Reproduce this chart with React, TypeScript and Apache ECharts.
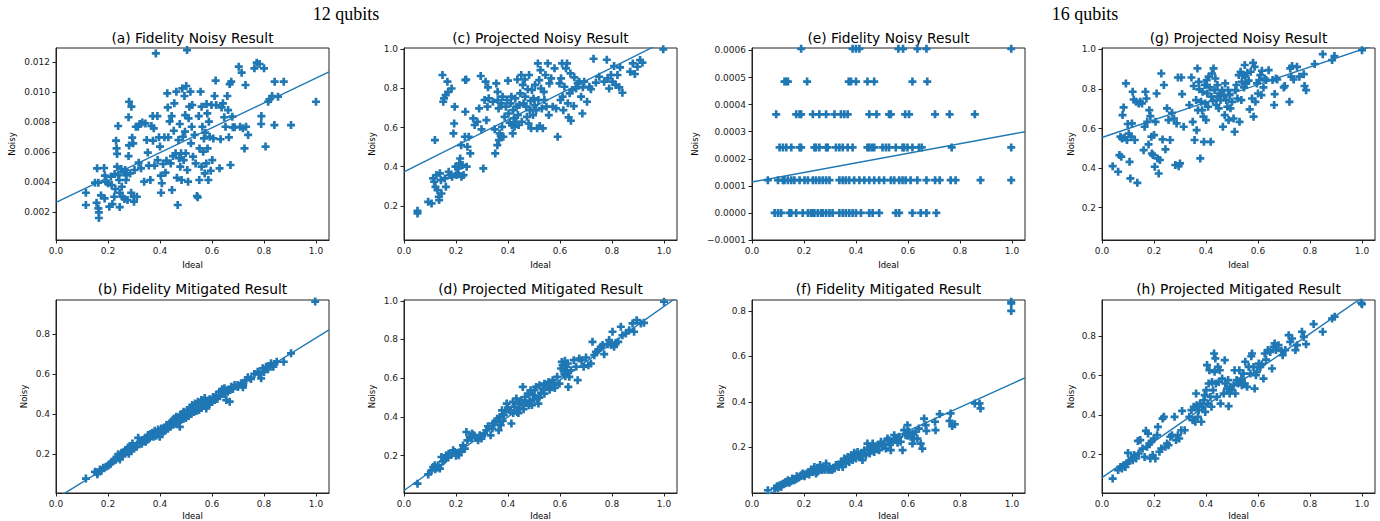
import React, { useEffect, useRef } from "react";
import * as echarts from "echarts";

// ---------- data ----------
const X_TICKS = [0, 0.2, 0.4, 0.6, 0.8, 1.0];
const Y_TICKS_A = [0.002, 0.004, 0.006, 0.008, 0.01, 0.012];
const Y_TICKS_E = [-0.0001, 0, 0.0001, 0.0002, 0.0003, 0.0004, 0.0005, 0.0006];
const Y_TICKS_TO1 = [0.2, 0.4, 0.6, 0.8, 1.0];
const Y_TICKS_TO08 = [0.2, 0.4, 0.6, 0.8];

// fitted lines: [intercept, slope]
const FIT_A = [0.00265, 0.0083];
const FIT_C = [0.374, 0.666];
const FIT_E = [0.000114, 0.000177];
const FIT_G = [0.555, 0.445];
const FIT_B = [-0.024, 0.804];
const FIT_D = [0.02, 0.951];
const FIT_F = [-0.04, 0.52];
const FIT_H = [0.083, 0.912];

const A_DATA = [
  [0.115,0.00329],[0.115,0.00247],[0.15,0.00396],[0.156,0.00262],[0.158,0.00492],[0.163,0.00396],[0.163,0.00224],[0.165,0.00198],[0.165,0.0016],[0.173,0.00311],
  [0.185,0.00494],[0.187,0.00291],[0.188,0.00443],[0.192,0.00403],[0.2,0.00392],[0.205,0.00236],[0.211,0.00436],[0.214,0.0038],[0.217,0.00253],[0.224,0.00302],
  [0.226,0.00454],[0.228,0.00354],[0.231,0.00677],[0.233,0.00625],[0.235,0.00588],[0.239,0.00775],[0.235,0.00503],[0.24,0.00447],[0.243,0.00414],[0.245,0.00329],
  [0.245,0.00233],[0.251,0.00487],[0.253,0.00369],[0.256,0.00302],[0.261,0.00465],[0.263,0.00287],[0.266,0.00481],[0.269,0.00414],[0.271,0.00447],[0.275,0.0028],
  [0.279,0.00574],[0.281,0.00937],[0.279,0.00833],[0.281,0.00645],[0.285,0.00458],[0.289,0.00329],[0.29,0.00904],[0.293,0.00697],[0.297,0.00659],[0.299,0.00302],
  [0.3,0.00269],[0.302,0.00481],[0.307,0.0077],[0.311,0.00302],[0.315,0.0077],[0.318,0.0053],[0.322,0.00788],[0.327,0.00492],[0.332,0.00799],[0.339,0.00403],
  [0.344,0.00792],[0.349,0.00681],[0.353,0.00597],[0.357,0.0051],[0.363,0.00414],[0.367,0.00775],[0.372,0.00841],[0.373,0.00677],[0.376,0.00759],[0.379,0.0051],
  [0.384,0.0126],[0.39,0.00841],[0.391,0.00547],[0.396,0.00699],[0.4,0.00637],[0.403,0.00443],[0.404,0.00329],[0.407,0.00392],[0.412,0.00521],[0.417,0.00699],
  [0.421,0.00463],[0.425,0.00543],[0.428,0.00993],[0.43,0.00899],[0.432,0.00699],[0.437,0.00806],[0.441,0.00525],[0.445,0.00841],[0.446,0.00347],[0.45,0.00574],
  [0.453,0.00743],[0.455,0.00926],[0.46,0.00592],[0.463,0.01004],[0.465,0.00429],[0.468,0.00247],[0.471,0.00681],[0.473,0.00559],[0.476,0.00788],[0.478,0.00503],
  [0.481,0.00592],[0.483,0.00414],[0.486,0.01026],[0.488,0.00703],[0.491,0.00547],[0.494,0.00975],[0.496,0.00737],[0.497,0.00848],[0.499,0.00592],[0.501,0.01042],
  [0.504,0.01282],[0.505,0.00481],[0.508,0.00403],[0.51,0.00826],[0.513,0.00904],[0.517,0.01004],[0.519,0.00659],[0.522,0.0077],[0.524,0.00915],[0.527,0.0057],
  [0.533,0.00715],[0.537,0.00525],[0.542,0.00307],[0.545,0.00298],[0.549,0.00841],[0.551,0.00414],[0.552,0.00625],[0.556,0.01004],[0.56,0.00904],[0.56,0.00503],
  [0.563,0.0077],[0.566,0.00603],[0.569,0.00692],[0.572,0.00458],[0.574,0.0073],[0.578,0.00525],[0.579,0.00922],[0.582,0.00859],[0.583,0.00625],[0.586,0.00414],
  [0.588,0.00804],[0.591,0.00703],[0.595,0.00476],[0.598,0.00915],[0.601,0.00547],[0.605,0.00692],[0.61,0.00975],[0.614,0.01078],[0.616,0.00915],[0.629,0.00492],
  [0.633,0.00686],[0.637,0.00899],[0.642,0.00926],[0.647,0.00833],[0.652,0.0077],[0.659,0.00975],[0.662,0.00881],[0.665,0.00699],[0.668,0.01055],[0.671,0.00514],
  [0.674,0.01071],[0.678,0.00837],[0.68,0.00766],[0.687,0.00766],[0.703,0.01171],[0.708,0.0077],[0.714,0.01131],[0.719,0.00759],[0.725,0.00625],[0.729,0.01049],
  [0.731,0.0077],[0.739,0.00715],[0.763,0.0116],[0.772,0.01198],[0.783,0.01189],[0.789,0.00788],[0.79,0.00841],[0.8,0.0116],[0.806,0.00637],[0.816,0.00937],
  [0.821,0.00953],[0.831,0.00975],[0.841,0.01071],[0.84,0.00781],[0.854,0.00971],[0.876,0.01071],[0.904,0.00781],[1.0,0.00937],
];

const C_DATA = [
  [0.052,0.174],[0.052,0.161],[0.093,0.22],[0.106,0.212],[0.112,0.34],[0.116,0.323],[0.119,0.536],[0.121,0.297],[0.125,0.357],[0.129,0.28],
  [0.134,0.246],[0.135,0.229],[0.138,0.366],[0.142,0.331],[0.144,0.263],[0.148,0.869],[0.151,0.732],[0.154,0.749],[0.157,0.34],[0.16,0.766],
  [0.161,0.297],[0.167,0.835],[0.17,0.783],[0.172,0.374],[0.177,0.357],[0.183,0.8],[0.185,0.348],[0.19,0.57],[0.193,0.621],[0.195,0.707],
  [0.198,0.4],[0.202,0.357],[0.206,0.366],[0.209,0.391],[0.213,0.417],[0.216,0.442],[0.22,0.51],[0.221,0.348],[0.225,0.408],[0.229,0.357],
  [0.234,0.553],[0.236,0.681],[0.236,0.843],[0.239,0.846],[0.241,0.4],[0.244,0.502],[0.249,0.553],[0.255,0.468],[0.266,0.647],[0.272,0.613],
  [0.282,0.63],[0.289,0.698],[0.295,0.864],[0.298,0.591],[0.305,0.391],[0.31,0.741],[0.314,0.835],[0.317,0.638],[0.321,0.707],[0.323,0.806],
  [0.326,0.75],[0.342,0.732],[0.349,0.591],[0.351,0.468],[0.355,0.826],[0.359,0.51],[0.36,0.783],[0.361,0.741],[0.364,0.698],[0.365,0.536],
  [0.368,0.57],[0.372,0.557],[0.374,0.724],[0.377,0.604],[0.379,0.758],[0.382,0.553],[0.387,0.655],[0.392,0.707],[0.396,0.741],[0.4,0.84],
  [0.402,0.672],[0.406,0.625],[0.41,0.724],[0.413,0.758],[0.415,0.613],[0.418,0.57],[0.42,0.689],[0.423,0.647],[0.425,0.604],[0.428,0.749],
  [0.43,0.63],[0.433,0.707],[0.436,0.846],[0.438,0.664],[0.441,0.613],[0.444,0.715],[0.447,0.775],[0.451,0.869],[0.453,0.63],[0.457,0.818],
  [0.46,0.724],[0.464,0.846],[0.466,0.758],[0.47,0.707],[0.473,0.655],[0.476,0.796],[0.479,0.621],[0.481,0.869],[0.484,0.689],[0.487,0.737],
  [0.489,0.596],[0.492,0.792],[0.496,0.664],[0.498,0.749],[0.502,0.715],[0.504,0.818],[0.508,0.689],[0.512,0.596],[0.515,0.928],[0.517,0.741],
  [0.52,0.843],[0.522,0.608],[0.525,0.894],[0.527,0.8],[0.53,0.698],[0.534,0.596],[0.538,0.783],[0.54,0.741],[0.544,0.869],[0.548,0.707],
  [0.553,0.928],[0.557,0.664],[0.559,0.826],[0.566,0.852],[0.572,0.707],[0.579,0.903],[0.585,0.698],[0.591,0.553],[0.598,0.826],[0.602,0.741],
  [0.604,0.852],[0.608,0.928],[0.61,0.758],[0.613,0.689],[0.617,0.809],[0.623,0.903],[0.627,0.928],[0.63,0.724],[0.633,0.652],[0.637,0.775],
  [0.64,0.877],[0.642,0.635],[0.647,0.792],[0.653,0.71],[0.655,0.857],[0.662,0.8],[0.668,0.826],[0.674,0.835],[0.681,0.758],[0.686,0.672],
  [0.688,0.806],[0.693,0.835],[0.704,0.732],[0.713,0.809],[0.719,0.796],[0.729,0.952],[0.738,0.83],[0.751,0.86],[0.77,0.835],[0.78,0.947],
  [0.783,0.852],[0.789,0.8],[0.796,0.869],[0.802,0.835],[0.808,0.915],[0.814,0.818],[0.821,0.869],[0.828,0.806],[0.831,0.908],[0.84,0.778],
  [0.87,0.886],[0.88,0.928],[0.888,0.874],[0.898,0.911],[0.908,0.945],[0.917,0.932],[0.997,1.0],
];

// (e) values sit on discrete levels
const E_LEVELS = [0, 0.000121, 0.000242, 0.000364, 0.000485, 0.000606];
const E_X_L0 = [0.087,0.1,0.112,0.144,0.151,0.17,0.195,0.215,0.227,0.234,0.24,0.253,0.266,0.272,0.285,0.298,0.31,0.336,0.349,0.361,0.374,0.387,0.4,0.419,0.451,0.464,0.489,0.553,0.566,0.617,0.649,0.671,0.709];
const E_X_L1 = [0.061,0.1,0.119,0.125,0.138,0.151,0.163,0.183,0.202,0.215,0.234,0.246,0.259,0.272,0.285,0.298,0.336,0.349,0.361,0.374,0.393,0.413,0.432,0.451,0.47,0.489,0.508,0.534,0.547,0.566,0.579,0.591,0.61,0.636,0.671,0.704,0.722,0.764,0.783,0.879,0.997];
const E_X_L2 = [0.106,0.119,0.132,0.151,0.183,0.189,0.24,0.246,0.259,0.285,0.291,0.323,0.336,0.349,0.368,0.387,0.444,0.451,0.461,0.47,0.502,0.515,0.527,0.553,0.579,0.585,0.598,0.617,0.642,0.653,0.768,0.997];
const E_X_L3 = [0.093,0.17,0.183,0.189,0.234,0.259,0.285,0.317,0.342,0.355,0.368,0.451,0.479,0.527,0.534,0.589,0.604,0.704,0.76,0.857];
const E_X_L4 = [0.125,0.132,0.138,0.212,0.372,0.381,0.4,0.444,0.47,0.617,0.674];
const E_X_L5 = [0.189,0.387,0.4,0.413,0.563,0.581,0.636,0.671,0.997];

const G_DATA = [
  [0.041,0.41],[0.062,0.382],[0.067,0.466],[0.071,0.559],[0.074,0.458],[0.077,0.55],[0.079,0.668],[0.083,0.707],[0.087,0.555],[0.092,0.828],
  [0.096,0.542],[0.099,0.623],[0.103,0.575],[0.106,0.432],[0.109,0.348],[0.113,0.559],[0.115,0.626],[0.118,0.786],[0.122,0.747],[0.126,0.542],
  [0.131,0.735],[0.136,0.326],[0.141,0.727],[0.147,0.735],[0.154,0.727],[0.16,0.491],[0.164,0.609],[0.167,0.786],[0.171,0.752],[0.174,0.634],
  [0.179,0.52],[0.182,0.693],[0.186,0.663],[0.19,0.559],[0.192,0.474],[0.196,0.466],[0.2,0.567],[0.203,0.407],[0.206,0.634],[0.21,0.777],
  [0.214,0.449],[0.218,0.373],[0.223,0.441],[0.228,0.878],[0.233,0.545],[0.238,0.82],[0.244,0.495],[0.25,0.702],[0.256,0.643],[0.262,0.542],
  [0.269,0.68],[0.277,0.651],[0.282,0.416],[0.287,0.626],[0.292,0.858],[0.295,0.41],[0.3,0.424],[0.305,0.858],[0.308,0.774],[0.314,0.609],
  [0.336,0.719],[0.344,0.858],[0.349,0.634],[0.353,0.815],[0.356,0.542],[0.362,0.744],[0.364,0.592],[0.367,0.904],[0.369,0.693],[0.372,0.836],
  [0.374,0.798],[0.378,0.449],[0.381,0.735],[0.385,0.693],[0.387,0.786],[0.39,0.66],[0.392,0.533],[0.395,0.82],[0.397,0.727],[0.4,0.643],
  [0.403,0.845],[0.405,0.777],[0.408,0.71],[0.41,0.862],[0.414,0.808],[0.418,0.533],[0.421,0.761],[0.423,0.878],[0.427,0.74],[0.429,0.904],
  [0.433,0.794],[0.436,0.853],[0.44,0.719],[0.444,0.82],[0.446,0.761],[0.449,0.702],[0.453,0.777],[0.456,0.744],[0.462,0.794],[0.465,0.609],
  [0.469,0.769],[0.472,0.668],[0.474,0.828],[0.478,0.744],[0.482,0.71],[0.485,0.794],[0.487,0.643],[0.491,0.769],[0.494,0.702],[0.5,0.735],
  [0.506,0.651],[0.51,0.584],[0.513,0.794],[0.517,0.82],[0.521,0.752],[0.526,0.87],[0.529,0.634],[0.533,0.887],[0.536,0.744],[0.538,0.836],
  [0.542,0.87],[0.546,0.808],[0.549,0.921],[0.551,0.862],[0.555,0.828],[0.559,0.882],[0.564,0.842],[0.568,0.697],[0.572,0.887],[0.577,0.752],
  [0.581,0.932],[0.583,0.66],[0.587,0.912],[0.59,0.735],[0.596,0.828],[0.6,0.777],[0.605,0.845],[0.609,0.87],[0.613,0.769],[0.615,0.892],
  [0.621,0.808],[0.626,0.853],[0.631,0.845],[0.641,0.895],[0.656,0.845],[0.662,0.719],[0.664,0.774],[0.669,0.853],[0.674,0.848],[0.699,0.808],
  [0.703,0.815],[0.721,0.735],[0.724,0.904],[0.728,0.862],[0.731,0.916],[0.737,0.848],[0.75,0.912],[0.759,0.862],[0.776,0.875],[0.779,0.815],
  [0.785,0.794],[0.818,0.926],[0.849,0.976],[0.885,0.946],[0.894,0.966],[1.0,0.996],
];

const B_DATA = [
  [0.115,0.076],[0.15,0.11],[0.159,0.098],[0.169,0.121],[0.182,0.131],[0.192,0.135],[0.205,0.147],[0.214,0.16],[0.223,0.168],[0.233,0.185],
  [0.239,0.198],[0.246,0.172],[0.252,0.205],[0.261,0.21],[0.269,0.218],[0.277,0.232],[0.286,0.238],[0.294,0.252],[0.303,0.235],[0.316,0.28],
  [0.322,0.26],[0.332,0.269],[0.341,0.277],[0.354,0.294],[0.363,0.299],[0.371,0.305],[0.38,0.315],[0.386,0.299],[0.393,0.322],[0.399,0.285],
  [0.405,0.327],[0.412,0.31],[0.418,0.332],[0.425,0.344],[0.431,0.335],[0.437,0.352],[0.444,0.36],[0.45,0.369],[0.456,0.377],[0.463,0.386],
  [0.469,0.377],[0.476,0.335],[0.478,0.394],[0.486,0.399],[0.491,0.411],[0.499,0.389],[0.504,0.419],[0.512,0.411],[0.517,0.432],[0.524,0.444],
  [0.529,0.427],[0.535,0.452],[0.54,0.436],[0.546,0.461],[0.552,0.452],[0.559,0.469],[0.565,0.456],[0.572,0.479],[0.578,0.427],[0.584,0.466],
  [0.591,0.473],[0.597,0.461],[0.604,0.484],[0.616,0.494],[0.629,0.511],[0.639,0.523],[0.648,0.528],[0.655,0.469],[0.661,0.511],[0.668,0.461],
  [0.674,0.536],[0.687,0.544],[0.699,0.544],[0.712,0.553],[0.719,0.533],[0.731,0.569],[0.738,0.583],[0.763,0.6],[0.776,0.611],[0.789,0.578],
  [0.795,0.628],[0.808,0.636],[0.815,0.623],[0.827,0.653],[0.836,0.636],[0.849,0.661],[0.876,0.661],[0.904,0.703],[0.997,0.962],
  [0.16,0.105],[0.175,0.115],[0.2,0.14],[0.21,0.15],[0.23,0.17],[0.24,0.18],[0.255,0.19],[0.265,0.2],[0.275,0.21],[0.28,0.2],
  [0.29,0.22],[0.3,0.225],[0.31,0.235],[0.33,0.25],[0.345,0.26],[0.35,0.27],[0.36,0.28],[0.375,0.285],[0.385,0.29],[0.395,0.3],
  [0.4,0.3],[0.41,0.32],[0.42,0.315],[0.43,0.325],[0.44,0.335],[0.45,0.345],[0.46,0.35],[0.47,0.36],[0.48,0.37],[0.49,0.375],
  [0.5,0.38],[0.51,0.39],[0.52,0.4],[0.53,0.41],[0.54,0.415],[0.55,0.42],[0.56,0.43],[0.57,0.44],[0.58,0.45],[0.59,0.45],
  [0.6,0.46],[0.61,0.47],[0.62,0.475],[0.63,0.49],[0.64,0.5],[0.65,0.5],[0.66,0.52],[0.67,0.52],[0.68,0.525],[0.7,0.535],
  [0.72,0.545],[0.75,0.575],[0.78,0.6],[0.8,0.61],[0.82,0.64],[0.84,0.65],
];

const D_DATA = [
  [0.052,0.055],[0.093,0.103],[0.106,0.124],[0.112,0.141],[0.119,0.15],[0.125,0.138],[0.132,0.15],[0.138,0.133],[0.144,0.193],[0.155,0.176],
  [0.163,0.202],[0.172,0.21],[0.183,0.207],[0.189,0.228],[0.195,0.219],[0.202,0.21],[0.211,0.202],[0.218,0.219],[0.227,0.253],[0.234,0.236],
  [0.24,0.322],[0.244,0.279],[0.253,0.297],[0.262,0.314],[0.269,0.305],[0.278,0.293],[0.285,0.279],[0.291,0.305],[0.298,0.288],[0.308,0.314],
  [0.317,0.331],[0.323,0.352],[0.333,0.305],[0.342,0.366],[0.351,0.374],[0.359,0.391],[0.364,0.331],[0.368,0.4],[0.372,0.357],[0.377,0.434],
  [0.384,0.409],[0.39,0.426],[0.395,0.469],[0.4,0.448],[0.406,0.434],[0.413,0.366],[0.419,0.478],[0.425,0.452],[0.432,0.495],[0.436,0.426],
  [0.441,0.469],[0.444,0.443],[0.451,0.486],[0.457,0.555],[0.461,0.461],[0.466,0.503],[0.47,0.472],[0.476,0.521],[0.483,0.483],[0.487,0.538],
  [0.492,0.461],[0.496,0.512],[0.502,0.538],[0.508,0.555],[0.512,0.495],[0.517,0.469],[0.521,0.564],[0.527,0.524],[0.534,0.547],[0.54,0.572],
  [0.547,0.555],[0.556,0.581],[0.566,0.564],[0.572,0.59],[0.579,0.564],[0.589,0.607],[0.598,0.572],[0.604,0.65],[0.607,0.684],[0.61,0.667],
  [0.614,0.641],[0.617,0.624],[0.619,0.69],[0.623,0.659],[0.627,0.633],[0.63,0.676],[0.632,0.555],[0.636,0.607],[0.642,0.641],[0.653,0.693],
  [0.662,0.659],[0.668,0.59],[0.674,0.702],[0.683,0.693],[0.691,0.659],[0.7,0.707],[0.709,0.667],[0.719,0.676],[0.725,0.788],[0.732,0.719],
  [0.738,0.736],[0.747,0.745],[0.757,0.762],[0.764,0.771],[0.77,0.724],[0.783,0.776],[0.789,0.797],[0.796,0.771],[0.802,0.84],[0.808,0.762],
  [0.815,0.783],[0.824,0.788],[0.834,0.866],[0.84,0.822],[0.853,0.831],[0.866,0.848],[0.879,0.883],[0.885,0.84],[0.895,0.9],[0.911,0.883],
  [0.923,0.886],[1.0,0.995],
  [0.12,0.13],[0.13,0.14],[0.15,0.17],[0.17,0.19],[0.2,0.2],[0.22,0.23],[0.26,0.29],[0.3,0.3],[0.34,0.34],[0.38,0.38],
  [0.42,0.42],[0.44,0.42],[0.46,0.44],[0.48,0.46],[0.5,0.49],[0.52,0.5],[0.54,0.52],[0.56,0.54],[0.58,0.55],[0.62,0.61],
];

const F_DATA = [
  [0.061,0.01],[0.087,0.018],[0.096,0.028],[0.106,0.032],[0.112,0.025],[0.121,0.04],[0.129,0.047],[0.138,0.054],[0.144,0.043],[0.155,0.062],
  [0.163,0.054],[0.172,0.072],[0.18,0.066],[0.189,0.076],[0.195,0.084],[0.202,0.072],[0.211,0.084],[0.218,0.091],[0.227,0.101],[0.234,0.091],
  [0.24,0.113],[0.246,0.084],[0.253,0.106],[0.262,0.121],[0.269,0.099],[0.278,0.106],[0.285,0.128],[0.291,0.101],[0.298,0.113],[0.308,0.099],
  [0.317,0.106],[0.323,0.121],[0.333,0.113],[0.342,0.135],[0.349,0.113],[0.355,0.15],[0.361,0.128],[0.368,0.157],[0.374,0.135],[0.381,0.165],
  [0.387,0.143],[0.393,0.175],[0.4,0.15],[0.406,0.179],[0.413,0.157],[0.419,0.172],[0.425,0.143],[0.432,0.187],[0.438,0.165],[0.444,0.216],
  [0.448,0.194],[0.453,0.172],[0.457,0.201],[0.464,0.216],[0.47,0.179],[0.476,0.201],[0.483,0.209],[0.489,0.187],[0.496,0.224],[0.502,0.204],
  [0.508,0.216],[0.515,0.194],[0.521,0.238],[0.527,0.231],[0.534,0.187],[0.54,0.224],[0.547,0.253],[0.553,0.231],[0.559,0.238],[0.566,0.246],
  [0.572,0.224],[0.579,0.187],[0.585,0.275],[0.591,0.253],[0.598,0.297],[0.604,0.268],[0.61,0.246],[0.617,0.216],[0.623,0.238],[0.63,0.268],
  [0.636,0.238],[0.642,0.282],[0.649,0.216],[0.655,0.194],[0.662,0.326],[0.668,0.297],[0.671,0.272],[0.704,0.312],[0.706,0.275],[0.722,0.346],
  [0.76,0.316],[0.764,0.349],[0.77,0.293],[0.78,0.301],[0.857,0.393],[0.875,0.393],[0.879,0.371],[0.997,0.841],[0.997,0.834],[0.997,0.801],
  [0.1,0.02],[0.115,0.035],[0.135,0.045],[0.15,0.05],[0.17,0.06],[0.2,0.08],[0.22,0.08],[0.25,0.09],[0.28,0.1],[0.3,0.1],
  [0.33,0.12],[0.36,0.14],[0.4,0.16],[0.42,0.16],[0.46,0.19],[0.5,0.21],[0.53,0.21],[0.56,0.22],[0.6,0.25],[0.62,0.26],
];

const H_DATA = [
  [0.041,0.078],[0.062,0.121],[0.071,0.137],[0.077,0.129],[0.083,0.146],[0.09,0.137],[0.096,0.154],[0.1,0.208],[0.105,0.168],[0.113,0.18],
  [0.118,0.171],[0.123,0.197],[0.131,0.18],[0.138,0.269],[0.141,0.205],[0.147,0.273],[0.156,0.23],[0.164,0.188],[0.169,0.32],[0.173,0.239],
  [0.177,0.306],[0.182,0.256],[0.186,0.18],[0.19,0.264],[0.195,0.197],[0.199,0.281],[0.205,0.18],[0.212,0.298],[0.215,0.34],[0.221,0.214],
  [0.228,0.23],[0.233,0.382],[0.238,0.391],[0.244,0.239],[0.25,0.256],[0.256,0.247],[0.263,0.29],[0.269,0.298],[0.279,0.391],[0.285,0.273],
  [0.292,0.298],[0.297,0.281],[0.305,0.323],[0.308,0.421],[0.318,0.323],[0.336,0.391],[0.344,0.425],[0.349,0.374],[0.353,0.442],[0.359,0.366],
  [0.362,0.509],[0.364,0.45],[0.369,0.391],[0.372,0.425],[0.377,0.458],[0.382,0.366],[0.387,0.442],[0.391,0.475],[0.395,0.501],[0.397,0.416],
  [0.401,0.526],[0.404,0.653],[0.408,0.458],[0.41,0.56],[0.413,0.627],[0.417,0.492],[0.421,0.442],[0.423,0.568],[0.427,0.526],[0.431,0.712],
  [0.433,0.619],[0.436,0.687],[0.438,0.56],[0.442,0.492],[0.446,0.644],[0.449,0.568],[0.453,0.627],[0.456,0.458],[0.462,0.585],[0.468,0.509],
  [0.472,0.678],[0.474,0.56],[0.481,0.534],[0.485,0.577],[0.487,0.445],[0.491,0.509],[0.494,0.543],[0.5,0.526],[0.506,0.551],[0.51,0.627],
  [0.513,0.509],[0.518,0.577],[0.523,0.56],[0.528,0.627],[0.532,0.568],[0.536,0.585],[0.538,0.551],[0.544,0.61],[0.549,0.56],[0.551,0.67],
  [0.558,0.543],[0.564,0.644],[0.571,0.61],[0.574,0.698],[0.577,0.712],[0.583,0.644],[0.587,0.534],[0.592,0.602],[0.596,0.619],[0.603,0.661],
  [0.609,0.644],[0.615,0.658],[0.621,0.585],[0.626,0.712],[0.631,0.681],[0.638,0.729],[0.647,0.72],[0.654,0.636],[0.66,0.746],[0.664,0.763],
  [0.669,0.729],[0.679,0.754],[0.69,0.725],[0.695,0.703],[0.705,0.729],[0.718,0.805],[0.724,0.771],[0.731,0.788],[0.744,0.729],[0.75,0.754],
  [0.769,0.822],[0.776,0.796],[0.785,0.759],[0.814,0.861],[0.849,0.822],[0.885,0.889],[0.895,0.898],[0.997,0.969],[1.0,0.962],
];

// ---------- styling ----------
const BLUE = "#1f77b4";
const INK = "#222222";
const FONT = "'DejaVu Sans', sans-serif";
const PLUS = "path://M1,0H2V1H3V2H2V3H1V2H0V1H1Z";

const E_DATA: number[][] = [];
[E_X_L0, E_X_L1, E_X_L2, E_X_L3, E_X_L4, E_X_L5].forEach((xs, k) => {
  xs.forEach((x) => E_DATA.push([x, E_LEVELS[k]]));
});

const PANELS = [
  { title: "(a) Fidelity Noisy Result", data: A_DATA, fit: FIT_A, yMin: 0.00013, yMax: 0.01296, yTicks: Y_TICKS_A, dec: 3, left: 56, top: 48, h: 192, nameX: 12 },
  { title: "(c) Projected Noisy Result", data: C_DATA, fit: FIT_C, yMin: 0.025, yMax: 1.007, yTicks: Y_TICKS_TO1, dec: 1, left: 404, top: 48, h: 192, nameX: 372 },
  { title: "(e) Fidelity Noisy Result", data: E_DATA, fit: FIT_E, yMin: -0.0001, yMax: 0.000609, yTicks: Y_TICKS_E, dec: 4, left: 752, top: 48, h: 192, nameX: 695 },
  { title: "(g) Projected Noisy Result", data: G_DATA, fit: FIT_G, yMin: 0.037, yMax: 1.007, yTicks: Y_TICKS_TO1, dec: 1, left: 1102, top: 48, h: 192, nameX: 1071 },
  { title: "(b) Fidelity Mitigated Result", data: B_DATA, fit: FIT_B, yMin: 0.004, yMax: 0.97, yTicks: Y_TICKS_TO08, dec: 1, left: 56, top: 300, h: 193, nameX: 24 },
  { title: "(d) Projected Mitigated Result", data: D_DATA, fit: FIT_D, yMin: 0.007, yMax: 1.004, yTicks: Y_TICKS_TO1, dec: 1, left: 404, top: 300, h: 193, nameX: 372 },
  { title: "(f) Fidelity Mitigated Result", data: F_DATA, fit: FIT_F, yMin: -0.002, yMax: 0.849, yTicks: Y_TICKS_TO08, dec: 1, left: 752, top: 300, h: 193, nameX: 721 },
  { title: "(h) Projected Mitigated Result", data: H_DATA, fit: FIT_H, yMin: 0.005, yMax: 0.983, yTicks: Y_TICKS_TO08, dec: 1, left: 1102, top: 300, h: 193, nameX: 1071 },
];
const GRID_W = 273;
const X_MAX = 1.05;

function fmt(v: number, dec: number) {
  return v.toFixed(dec).replace("-", "\u2212");
}

function textEl(text: string, x: number, y: number, font: string, rotation = 0) {
  return {
    type: "text",
    x,
    y,
    rotation,
    silent: true,
    style: {
      text,
      font,
      fill: "#000",
      align: "center",
      verticalAlign: "middle",
      textAlign: "center",
      textVerticalAlign: "middle",
    },
  };
}

function buildOption() {
  const grid = PANELS.map((p) => ({
    left: p.left,
    top: p.top,
    width: GRID_W,
    height: p.h,
    show: true,
    borderColor: INK,
    borderWidth: 1,
    backgroundColor: "transparent",
    containLabel: false,
    outerBoundsMode: "none",
  }));
  const axisCommon = {
    type: "value",
    splitLine: { show: false },
    axisLine: { show: true, onZero: false, lineStyle: { color: INK, width: 1 } },
  };
  const xAxis = PANELS.map((p, i) => ({
    ...axisCommon,
    gridIndex: i,
    min: 0,
    max: X_MAX,
    axisTick: { show: true, inside: false, length: 3.5, customValues: X_TICKS, lineStyle: { color: INK, width: 1 } },
    axisLabel: {
      show: true,
      customValues: X_TICKS,
      formatter: (v: number) => fmt(v, 1),
      fontSize: 9,
      fontFamily: FONT,
      color: INK,
      margin: 6,
    },
  }));
  const yAxis = PANELS.map((p, i) => ({
    ...axisCommon,
    gridIndex: i,
    min: p.yMin,
    max: p.yMax,
    axisTick: { show: true, inside: false, length: 3.5, customValues: p.yTicks, lineStyle: { color: INK, width: 1 } },
    axisLabel: {
      show: true,
      customValues: p.yTicks,
      formatter: (v: number) => fmt(v, p.dec),
      fontSize: 9,
      fontFamily: FONT,
      color: INK,
      margin: 6,
    },
  }));
  const series: any[] = [];
  PANELS.forEach((p, i) => {
    const [b, m] = p.fit;
    series.push({
      type: "line",
      xAxisIndex: i,
      yAxisIndex: i,
      data: [
        [0, b],
        [X_MAX, b + m * X_MAX],
      ],
      showSymbol: false,
      symbol: "none",
      clip: true,
      lineStyle: { color: BLUE, width: 1.4 },
      silent: true,
      z: 2,
    });
    series.push({
      type: "scatter",
      xAxisIndex: i,
      yAxisIndex: i,
      data: p.data,
      symbol: PLUS,
      symbolSize: 8,
      itemStyle: { color: BLUE, opacity: 1 },
      clip: true,
      silent: true,
      z: 3,
    });
  });
  const graphic: any[] = [
    textEl("12 qubits", 346, 14, "18px 'Liberation Serif', serif"),
    textEl("16 qubits", 1085, 14, "18px 'Liberation Serif', serif"),
  ];
  PANELS.forEach((p) => {
    const cx = p.left + GRID_W / 2;
    const top = p.top < 100;
    graphic.push(textEl(p.title, cx, top ? 38 : 289, `13.8px ${FONT}`));
    graphic.push(textEl("Ideal", cx, top ? 265 : 516, `8.5px ${FONT}`));
    graphic.push(textEl("Noisy", p.nameX, p.top + p.h / 2, `8.5px ${FONT}`, Math.PI / 2));
  });
  return {
    animation: false,
    backgroundColor: "#ffffff",
    grid,
    xAxis,
    yAxis,
    series,
    graphic,
  };
}

export default function App() {
  const ref = useRef<HTMLDivElement>(null);
  useEffect(() => {
    if (!ref.current) return;
    const chart = echarts.init(ref.current, null, { renderer: "svg", width: 1380, height: 521 });
    chart.setOption(buildOption() as any);
    return () => chart.dispose();
  }, []);
  return (
    <div
      ref={ref}
      style={{ position: "absolute", left: 0, top: 0, width: 1380, height: 521, background: "#fff" }}
    />
  );
}
